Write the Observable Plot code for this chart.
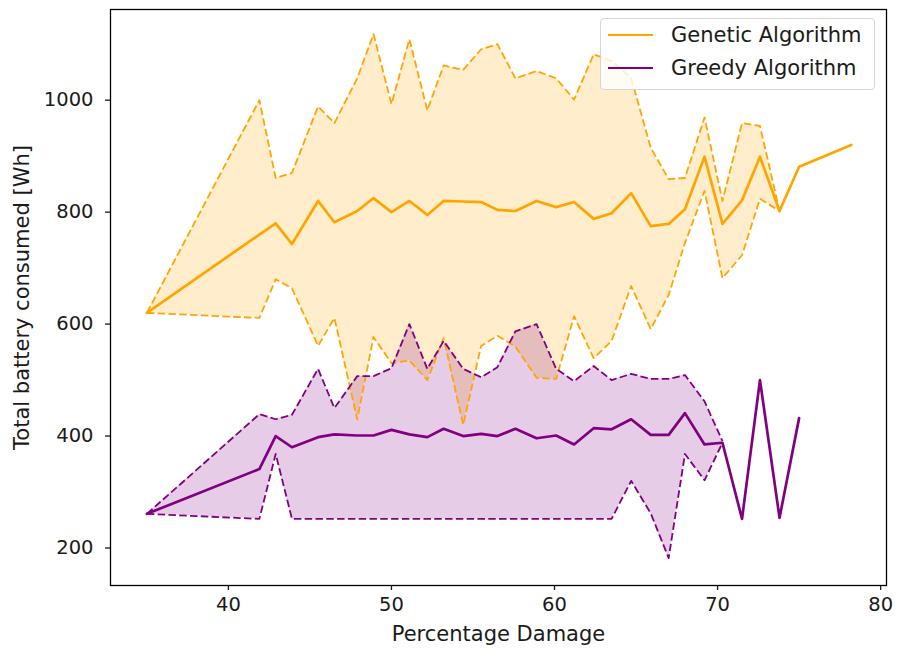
<!DOCTYPE html>
<html><head><meta charset="utf-8">
<script src="https://cdn.jsdelivr.net/npm/d3@7"></script>
<script src="https://cdn.jsdelivr.net/npm/@observablehq/plot@0.6"></script>
<style>
body{margin:0;background:#fff;font-family:"DejaVu Sans",sans-serif;}
#wrap{position:relative;width:897px;height:653px;}
#legend{position:absolute;left:600px;top:18px;width:275px;height:72px;border:1px solid #d6d6d6;border-radius:4px;background:rgba(255,255,255,0.8);box-sizing:border-box;}
.row{position:absolute;left:0;height:30px;display:flex;align-items:center;white-space:nowrap;}
.sw{width:45px;height:0;border-top:2.7px solid;margin-left:7px;margin-right:18px}
.lab{font-size:21px;color:#1a1a1a}
</style></head><body><div id="wrap"></div>
<script>
// x values (percentage damage)
const damage = [35.0, 41.9, 42.9, 43.9, 45.5, 46.5, 47.9, 48.9, 50.0, 51.1, 52.2, 53.2, 54.4, 55.5, 56.5, 57.6, 58.9, 60.1, 61.2, 62.4, 63.5, 64.7, 65.9, 67.0, 68.0, 69.2, 70.3, 71.5, 72.6, 73.8, 75.0, 78.2];
// Genetic Algorithm
const geneticMean  = [620, 760, 780, 743, 820, 782, 802, 825, 800, 820, 795, 820, 819, 818, 804, 802, 820, 809, 818, 788, 798, 834, 775, 779, 805, 899, 779, 821, 899, 802, 881, 920];
const geneticUpper = [620, 1000, 861, 870, 989, 959, 1039, 1118, 993, 1109, 982, 1062, 1054, 1091, 1100, 1039, 1052, 1039, 1001, 1082, 1070, 1040, 915, 859, 861, 969, 820, 959, 954, 802];
const geneticLower = [620, 611, 680, 664, 561, 611, 430, 577, 530, 535, 500, 575, 420, 561, 579, 560, 504, 502, 614, 539, 570, 668, 591, 652, 745, 838, 682, 723, 824, 802];
// Greedy Algorithm
const greedyMean  = [261, 341, 400, 380, 398, 403, 401, 401, 411, 403, 398, 413, 400, 404, 400, 413, 396, 401, 385, 414, 412, 430, 402, 402, 441, 385, 388, 252, 500, 254, 432];
const greedyUpper = [261, 439, 430, 438, 520, 450, 507, 507, 521, 600, 520, 570, 520, 505, 523, 587, 600, 520, 498, 525, 500, 511, 502, 502, 509, 462, 391];
const greedyLower = [261, 252, 368, 252, 252, 252, 252, 252, 252, 252, 252, 252, 252, 252, 252, 252, 252, 252, 252, 252, 252, 320, 262, 182, 368, 321, 388];
// ticks
const xTicks = [40, 50, 60, 70, 80];
const yTicks = [200, 400, 600, 800, 1000];
const series = ["Genetic Algorithm", "Greedy Algorithm"];
const colors = ["orange", "purple"];

const gMeanRows = geneticMean.map((v, i) => ({x: damage[i], y: v}));
const gBand = geneticUpper.map((v, i) => ({x: damage[i], hi: v, lo: geneticLower[i]}));
const pMeanRows = greedyMean.map((v, i) => ({x: damage[i], y: v}));
const pBand = greedyUpper.map((v, i) => ({x: damage[i], hi: v, lo: greedyLower[i]}));

const dash = {strokeWidth: 1.8, strokeDasharray: "7.5,3.3", strokeLinecap: "butt"};

const chart = Plot.plot({
  width: 897, height: 653,
  marginLeft: 110, marginRight: 11, marginTop: 9, marginBottom: 68,
  x: {domain: [32.77, 80.36]},
  y: {domain: [133, 1162]},
  style: {fontFamily: "DejaVu Sans", color: "#1a1a1a", background: "#fff"},
  marks: [
    Plot.areaY(gBand, {x: "x", y1: "lo", y2: "hi", fill: colors[0], fillOpacity: 0.2}),
    Plot.areaY(pBand, {x: "x", y1: "lo", y2: "hi", fill: colors[1], fillOpacity: 0.2}),
    Plot.line(gBand, {x: "x", y: "hi", stroke: colors[0], ...dash}),
    Plot.line(gBand, {x: "x", y: "lo", stroke: colors[0], ...dash}),
    Plot.line(pBand, {x: "x", y: "hi", stroke: colors[1], ...dash}),
    Plot.line(pBand, {x: "x", y: "lo", stroke: colors[1], ...dash}),
    Plot.line(gMeanRows, {x: "x", y: "y", stroke: colors[0], strokeWidth: 2.7}),
    Plot.line(pMeanRows, {x: "x", y: "y", stroke: colors[1], strokeWidth: 2.7}),
    Plot.frame({stroke: "#000", strokeWidth: 1.3}),
    Plot.axisX({ticks: xTicks, tickFormat: d => String(d), tickSize: 5, tickPadding: 7, fontSize: 19.5, label: null, strokeWidth: 1.3}),
    Plot.axisY({ticks: yTicks, tickFormat: d => String(d), tickSize: 5, tickPadding: 12, fontSize: 19.5, label: null, strokeWidth: 1.3}),
    Plot.text(["Percentage Damage"], {frameAnchor: "bottom", text: d => d, textAnchor: "middle", dy: 55, fontSize: 21}),
    Plot.text(["Total battery consumed [Wh]"], {frameAnchor: "left", text: d => d, textAnchor: "middle", rotate: -90, dx: -88, fontSize: 21})
  ]
});
const wrap = document.getElementById("wrap");
wrap.appendChild(chart);
const leg = document.createElement("div");
leg.id = "legend";
series.forEach((s, i) => {
  const r = document.createElement("div");
  r.className = "row";
  r.style.top = (i === 0 ? 1 : 34) + "px";
  r.innerHTML = `<span class="sw" style="border-color:${colors[i]}"></span><span class="lab">${s}</span>`;
  leg.appendChild(r);
});
wrap.appendChild(leg);
</script>
</body></html>
